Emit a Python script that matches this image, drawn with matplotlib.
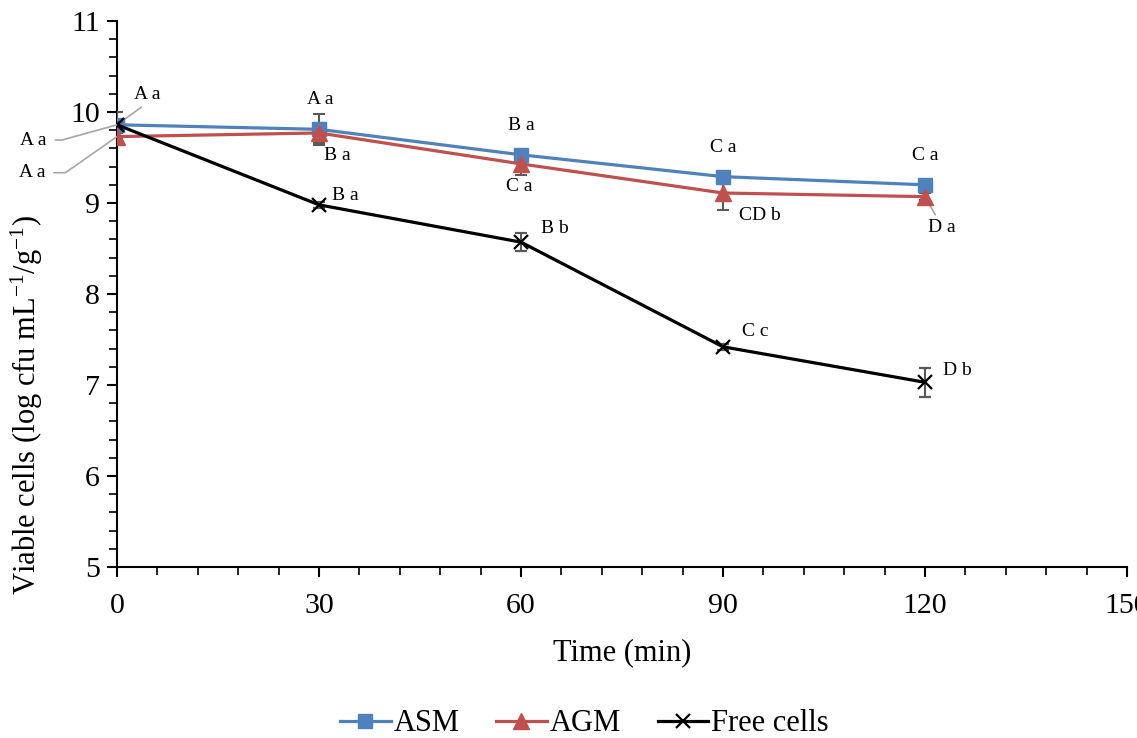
import matplotlib.pyplot as plt
import numpy as np
from matplotlib.ticker import MultipleLocator
from matplotlib.lines import Line2D

plt.rcParams['font.family'] = ['Liberation Serif', 'DejaVu Serif']
plt.rcParams['mathtext.fontset'] = 'custom'
plt.rcParams['mathtext.rm'] = 'Liberation Serif'
plt.rcParams['mathtext.it'] = 'Liberation Serif:italic'

time = [0, 30, 60, 90, 120]

asm = [9.86, 9.81, 9.53, 9.29, 9.20]
asm_err = [0.14, 0.17, 0.04, 0.04, 0.04]
agm = [9.73, 9.77, 9.43, 9.11, 9.07]
agm_err = [0.04, 0.11, 0.12, 0.19, 0.04]
free = [9.86, 8.98, 8.57, 7.42, 7.03]
free_err = [0.03, 0.03, 0.10, 0.03, 0.16]

asm_lab = ["A a", "A a", "B a", "C a", "C a"]
agm_lab = ["A a", "B a", "C a", "CD b", "D a"]
free_lab = ["A a", "B a", "B b", "C c", "D b"]

c_asm, c_agm, c_free = '#4F81BD', '#C0504D', 'black'

fig = plt.figure(figsize=(11.37, 7.38), dpi=100)
ax = fig.add_axes([0.1029, 0.2317, 0.8883, 0.7398])

ecol = '#595959'
eb = dict(ecolor=ecol, elinewidth=1.5, capsize=4.5, capthick=1.5)
ax.errorbar(time, asm, yerr=asm_err, color=c_asm, lw=2.3, marker='s', ms=10, zorder=3, **eb)
ax.errorbar(time, agm, yerr=agm_err, color=c_agm, lw=2.3, marker='^', ms=11, zorder=3, **eb)
ax.errorbar(time, free, yerr=free_err, color=c_free, lw=2.3, marker='x', ms=10, mew=1.6,
            zorder=4, **eb)

fs = 14
grey = '#A6A6A6'
# label offsets (points) from each data point
asm_off = [(22, 22), (1, 21.5), (0, 21), (0, 21), (0, 21)]
agm_off = [(-61, -26), (13, -16.5), (-1, -16.5), (26.5, -16), (12, -22)]
free_off = [(-60, -11), (19, 7), (24.5, 10), (23, 11), (23, 8.5)]

for i, t in enumerate(time):
    kw = {}
    if i == 0:
        kw = dict(arrowprops=dict(arrowstyle='-', color=grey, lw=1.2, shrinkA=2, shrinkB=0,
                                  relpos=(0.5, 0)))
    ax.annotate(asm_lab[i], (t, asm[i]), xytext=asm_off[i], textcoords='offset points',
                ha='center', va='center', fontsize=fs, **kw)

    kw = {}
    if i == 0:
        kw = dict(arrowprops=dict(arrowstyle='-', color=grey, lw=1.2, shrinkA=4, shrinkB=0,
                                  relpos=(1, 0.5),
                                  connectionstyle='angle,angleA=0,angleB=35,rad=0'))
    if i == 4:
        kw = dict(arrowprops=dict(arrowstyle='-', color=grey, lw=1.2, shrinkA=1, shrinkB=0,
                                  relpos=(0.35, 1)))
    ax.annotate(agm_lab[i], (t, agm[i]), xytext=agm_off[i], textcoords='offset points',
                ha='center', va='center', fontsize=fs, **kw)

    kw = {}
    if i == 0:
        kw = dict(arrowprops=dict(arrowstyle='-', color=grey, lw=1.2, shrinkA=4, shrinkB=0,
                                  relpos=(1, 0.5),
                                  connectionstyle='angle,angleA=0,angleB=15.5,rad=0'))
    ax.annotate(free_lab[i], (t, free[i]), xytext=free_off[i], textcoords='offset points',
                ha='center', va='center', fontsize=fs, **kw)

ax.set_xlim(0, 150)
ax.set_ylim(5, 11)
ax.xaxis.set_major_locator(MultipleLocator(30))
ax.xaxis.set_minor_locator(MultipleLocator(6))
ax.yaxis.set_major_locator(MultipleLocator(1))
ax.yaxis.set_minor_locator(MultipleLocator(0.2))

for s in ['top', 'right']:
    ax.spines[s].set_visible(False)
for s in ['left', 'bottom']:
    ax.spines[s].set_linewidth(1.5)
ax.tick_params(which='major', length=7.5, width=1.5, labelsize=21.5, direction='out')
ax.tick_params(which='minor', length=5.5, width=1.2, direction='out')
ax.tick_params(axis='x', pad=11)
ax.tick_params(axis='y', pad=5)

ax.set_xlabel("Time (min)", fontsize=22, labelpad=14)
ax.set_ylabel(r"Viable cells (log cfu mL$^{\mathregular{-1}}$/g$^{\mathregular{-1}}$)",
              fontsize=22)
ax.yaxis.set_label_coords(-0.071, 0.297)

handles = [Line2D([], [], color=c_asm, lw=2.3, marker='s', ms=10),
           Line2D([], [], color=c_agm, lw=2.3, marker='^', ms=11),
           Line2D([], [], color=c_free, lw=2.3, marker='x', ms=10, mew=1.6)]
fig.legend(handles, ['ASM', 'AGM', 'Free cells'], loc='center', bbox_to_anchor=(0.514, 0.019),
           ncol=3, frameon=False, fontsize=22, handlelength=1.65, handletextpad=0.1,
           columnspacing=1.2, borderpad=0)

fig.savefig('out.png', dpi=100)
